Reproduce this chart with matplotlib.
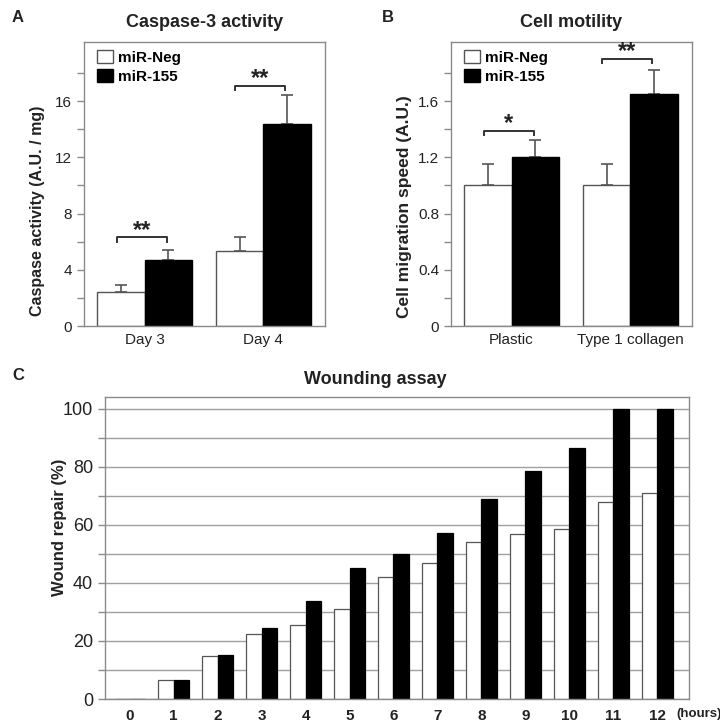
import matplotlib
matplotlib.use("Agg")
import matplotlib.pyplot as plt
from matplotlib.patches import Patch
import numpy as np

plt.rcParams['font.family'] = ['Liberation Sans', 'DejaVu Sans']

# ---------------- data ----------------
series_names = ["miR-Neg", "miR-155"]

a_categories = ["Day 3", "Day 4"]
a_neg = [2.4, 5.3]
a_neg_err = [0.5, 1.0]
a_155 = [4.7, 14.35]
a_155_err = [0.7, 2.05]
a_sig = ["**", "**"]
a_bracket_y = [6.3, 17.1]

b_categories = ["Plastic", "Type 1 collagen"]
b_neg = [1.0, 1.0]
b_neg_err = [0.15, 0.15]
b_155 = [1.2, 1.65]
b_155_err = [0.12, 0.17]
b_sig = ["*", "**"]
b_bracket_y = [1.39, 1.9]

c_hours = ["0", "1", "2", "3", "4", "5", "6", "7", "8", "9", "10", "11", "12"]
c_neg = [0, 6.6, 14.8, 22.4, 25.6, 31.0, 42.0, 47.0, 54.0, 56.7, 58.7, 67.8, 70.8]
c_155 = [0, 6.6, 15.2, 24.6, 33.6, 45.2, 50.0, 57.0, 68.8, 78.6, 86.6, 100, 100]

FRAME = "#8a8a8a"
EDGE = "#555555"
TXT = "#222222"

fig = plt.figure(figsize=(7.2, 7.22), dpi=100)
W, H = 720.0, 722.0

def px_axes(l, t, r, b):
    return fig.add_axes([l / W, 1 - b / H, (r - l) / W, (b - t) / H])

def style(ax):
    for s in ax.spines.values():
        s.set_color(FRAME)
        s.set_linewidth(1.0)
    ax.tick_params(axis='y', direction='out', length=5, color=FRAME, labelcolor=TXT, width=1)
    ax.tick_params(axis='x', length=0, labelcolor=TXT, pad=5)

def bracket(ax, x0, x1, y, dy, text, fs):
    ax.plot([x0, x0, x1, x1], [y - dy, y, y, y - dy], color="#333333", lw=1.4)
    ax.annotate(text, xy=((x0 + x1) / 2, y), xytext=(0, 0.5), textcoords='offset points',
                ha='center', va='baseline', fontsize=fs, fontweight='bold', color=TXT)

def bar_panel(ax, cats, neg, negerr, v155, v155err, sig, by, ymax, yticks, ylabels, ylabel, title, dy, lab_y, lab_fs):
    x = np.arange(len(cats))
    w = 0.4
    ax.bar(x - w / 2, neg, w, color='white', edgecolor=EDGE, lw=1.0, zorder=2)
    ax.bar(x + w / 2, v155, w, color='black', edgecolor='black', lw=1.0, zorder=2)
    ax.errorbar(x - w / 2, neg, yerr=[np.zeros(len(x)), negerr], fmt='none',
                ecolor="#555555", elinewidth=1.2, capsize=4.5, capthick=1.2, zorder=1)
    ax.errorbar(x + w / 2, v155, yerr=[np.zeros(len(x)), v155err], fmt='none',
                ecolor="#555555", elinewidth=1.2, capsize=4.5, capthick=1.2, zorder=1)
    for i in range(len(x)):
        bracket(ax, x[i] - 0.235, x[i] + 0.185, by[i], dy, sig[i], 17)
    ax.set_xlim(-0.51, 1.52)
    ax.set_ylim(0, ymax)
    ax.set_xticks(x)
    ax.set_xticklabels(cats, fontsize=11)
    ax.set_yticks(yticks)
    ax.set_yticklabels(ylabels, fontsize=11)
    ax.set_ylabel(ylabel, fontsize=lab_fs, fontweight='bold', color=TXT)
    ax.yaxis.set_label_coords(-0.162, lab_y)
    ax.set_title(title, fontsize=13, fontweight='bold', color=TXT, pad=11)
    handles = [Patch(facecolor='white', edgecolor=EDGE, lw=1.0),
               Patch(facecolor='black', edgecolor='black')]
    ax.legend(handles, series_names, loc='upper left', frameon=False,
              prop={'size': 11, 'weight': 'bold'}, handlelength=1.05, handleheight=0.95,
              handletextpad=0.35, labelspacing=0.3, borderaxespad=0.3,
              bbox_to_anchor=(0.01, 1.01))
    style(ax)

# Panel A
axA = px_axes(84, 42, 325, 326)
a_ticks = list(range(0, 20, 2))
a_labels = [str(t) if t % 4 == 0 else "" for t in a_ticks]
bar_panel(axA, a_categories, a_neg, a_neg_err, a_155, a_155_err, a_sig, a_bracket_y,
          20.2, a_ticks, a_labels, "Caspase activity (A.U. / mg)", "Caspase-3 activity", 0.3, 0.405, 11.5)

# Panel B
axB = px_axes(451, 42, 692, 326)
b_ticks = [0, 0.2, 0.4, 0.6, 0.8, 1.0, 1.2, 1.4, 1.6, 1.8]
b_labels = ["0", "", "0.4", "", "0.8", "", "1.2", "", "1.6", ""]
bar_panel(axB, b_categories, b_neg, b_neg_err, b_155, b_155_err, b_sig, b_bracket_y,
          2.02, b_ticks, b_labels, "Cell migration speed (A.U.)", "Cell motility", 0.03, 0.42, 12.5)

# Panel C
axC = px_axes(105, 397, 689, 699)
xc = np.arange(len(c_hours))
wc = 0.35
axC.bar(xc - wc / 2, c_neg, wc, color='white', edgecolor=EDGE, lw=0.9, zorder=2)
axC.bar(xc + wc / 2, c_155, wc, color='black', edgecolor='black', lw=0.9, zorder=2)
axC.set_xlim(-0.56, 12.72)
axC.set_ylim(0, 104)
axC.set_yticks(range(0, 101, 10))
axC.set_yticklabels([str(t) if t % 20 == 0 else "" for t in range(0, 101, 10)], fontsize=13)
axC.yaxis.grid(True, color="#a0a0a0", lw=1.0, zorder=0)
axC.set_axisbelow(True)
axC.set_xticks(xc)
axC.set_xticklabels(c_hours, fontsize=11, fontweight='bold')
axC.set_ylabel("Wound repair (%)", fontsize=12, fontweight='bold', color=TXT)
axC.yaxis.set_label_coords(-0.065, 0.57)
style(axC)
axC.tick_params(axis='x', pad=7)
axC.text(676 / W, 1 - 714.5 / H, "(hours)", transform=fig.transFigure, ha='left', va='center',
         fontsize=9.5, fontweight='bold', color=TXT)

fig.text(375 / W, 1 - 380 / H, "Wounding assay", ha='center', va='center',
         fontsize=13, fontweight='bold', color=TXT)

# Panel letters
fig.text(12 / W, 1 - 17 / H, "A", ha='left', va='center', fontsize=12, fontweight='bold', color=TXT)
fig.text(382 / W, 1 - 17 / H, "B", ha='left', va='center', fontsize=12, fontweight='bold', color=TXT)
fig.text(12 / W, 1 - 375 / H, "C", ha='left', va='center', fontsize=12, fontweight='bold', color=TXT)

fig.savefig("out.png", dpi=100)
